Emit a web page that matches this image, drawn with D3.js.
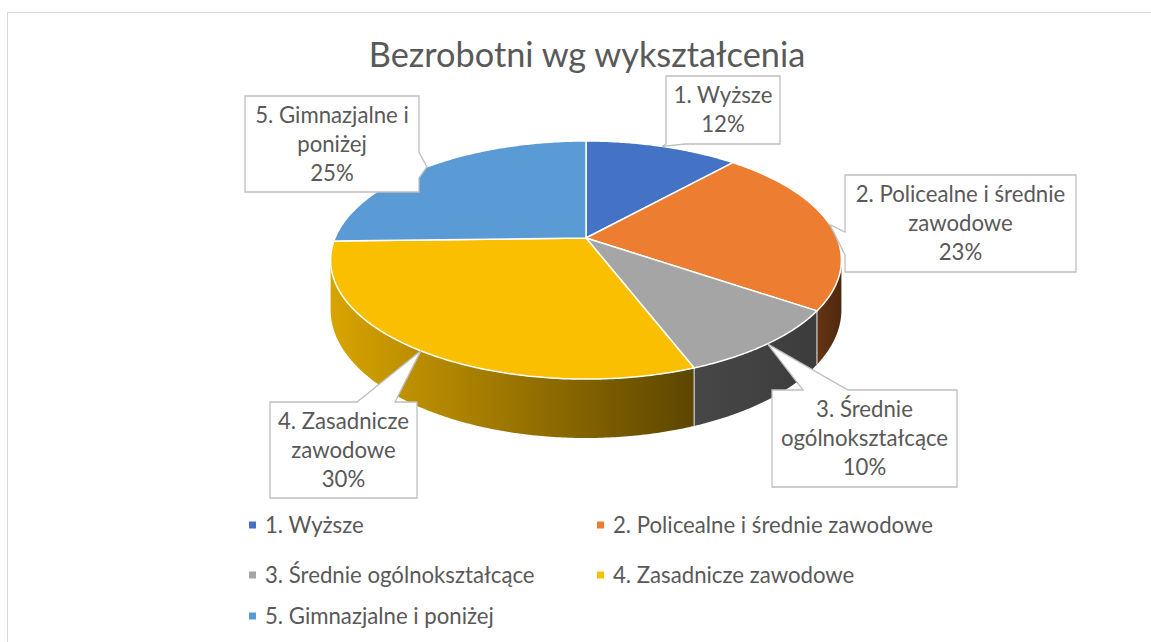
<!DOCTYPE html>
<html>
<head>
<meta charset="utf-8">
<title>Bezrobotni wg wykształcenia</title>
<script src="https://cdn.jsdelivr.net/npm/d3@7"></script>
<style>
  body { margin: 0; background: #fff; }
  text { font-family: Lato, "Liberation Sans", sans-serif; fill: #595959; }
</style>
</head>
<body>
<svg width="1151" height="642"></svg>
<script>
// data
var categories = ["1. Wyższe", "2. Policealne i średnie zawodowe", "3. Średnie ogólnokształcące", "4. Zasadnicze zawodowe", "5. Gimnazjalne i poniżej"];
var shares = [11.6, 23.0, 9.6, 30.4, 25.4];
var calloutLines = [["1. Wyższe"], ["2. Policealne i średnie", "zawodowe"], ["3. Średnie", "ogólnokształcące"], ["4. Zasadnicze", "zawodowe"], ["5. Gimnazjalne i", "poniżej"]];
var title = "Bezrobotni wg wykształcenia";

var colors = ["#4472c4", "#ed7d31", "#a5a5a5", "#fabf00", "#5b9bd5"];
var wallColors = [["#2c4c84", "#1d335a"], ["#663414", "#4e280e"], ["#474747", "#3c3c3c"], ["#d8a400", "#5c4600"], ["#3d6b98", "#2a4a6a"]];

var svg = d3.select("svg");

// chart frame
svg.append("rect")
   .attr("x", 7.5).attr("y", 12.5)
   .attr("width", 1170).attr("height", 700)
   .attr("fill", "#fff").attr("stroke", "#d9d9d9");

svg.append("text")
   .attr("x", 587).attr("y", 67)
   .attr("text-anchor", "middle")
   .style("font-size", "34.3px")
   .text(title);

// 3d pie projection (perspective tilted disc)
var cx = 586, cy = 238, rx = 251, ry = 115, persp = 0.185, depth = 48;

function proj(a, z) {
    var u = Math.sin(a), v = Math.cos(a), den = 1 + persp * v;
    return [cx + rx * u / den, cy - ry * v / den + z * depth / den];
}
function arcPts(a0, a1, z) {
    var n = Math.max(2, Math.ceil(Math.abs(a1 - a0) / 0.01));
    return d3.range(n + 1).map(function(i) { return proj(a0 + (a1 - a0) * i / n, z); });
}
var line = d3.line();

var pie = d3.pie().sort(null).value(function(d) { return d; });
var arcs = pie(shares);

var defs = svg.append("defs");
var aR = Math.acos(-persp), aL = 2 * Math.PI - aR;

var walls = svg.append("g");
arcs.forEach(function(d, i) {
    var b0 = Math.max(d.startAngle, aR), b1 = Math.min(d.endAngle, aL);
    if (b1 <= b0) return;
    var pts = arcPts(b0, b1, 0).concat(arcPts(b1, b0, 1));
    var xs = d3.extent(pts, function(p) { return p[0]; });
    var grad = defs.append("linearGradient")
        .attr("id", "wall" + i)
        .attr("gradientUnits", "userSpaceOnUse")
        .attr("x1", xs[0]).attr("x2", xs[1]).attr("y1", 0).attr("y2", 0);
    grad.append("stop").attr("offset", 0).attr("stop-color", wallColors[i][0]);
    grad.append("stop").attr("offset", 1).attr("stop-color", wallColors[i][1]);
    walls.append("path")
        .attr("d", line(pts) + "Z")
        .attr("fill", "url(#wall" + i + ")");
    // light seam where slices meet on the wall
    if (d.startAngle > aR && d.startAngle < aL) {
        var p0 = proj(d.startAngle, 0), p1 = proj(d.startAngle, 1);
        walls.append("line")
            .attr("x1", p0[0]).attr("y1", p0[1]).attr("x2", p1[0]).attr("y2", p1[1])
            .attr("stroke", "#d0d0d0").attr("stroke-width", 1.2);
    }
});

var faces = svg.append("g");
arcs.forEach(function(d, i) {
    var pts = [[cx, cy]].concat(arcPts(d.startAngle, d.endAngle, 0));
    faces.append("path")
        .attr("d", line(pts) + "Z")
        .attr("fill", colors[i])
        .attr("stroke", "#fff")
        .attr("stroke-width", 1.5)
        .attr("stroke-linejoin", "round");
});

// callouts
var boxes = [
    {x: 666, y: 76, w: 114, h: 68, side: "bottom", b0: 666, b1: 685},
    {x: 845, y: 175, w: 231, h: 97, side: "left", b0: 232, b1: 255},
    {x: 772, y: 390, w: 185, h: 97, side: "top", b0: 803, b1: 848},
    {x: 270, y: 402, w: 147, h: 96, side: "top", b0: 357, b1: 395},
    {x: 245, y: 96, w: 174, h: 96, side: "right", b0: 152, b1: 178}
];

function calloutPath(b, tip) {
    var x0 = b.x, y0 = b.y, x1 = b.x + b.w, y1 = b.y + b.h;
    var p = [[x0, y0]];
    if (b.side == "top") p.push([b.b0, y0], tip, [b.b1, y0]);
    p.push([x1, y0]);
    if (b.side == "right") p.push([x1, b.b0], tip, [x1, b.b1]);
    p.push([x1, y1]);
    if (b.side == "bottom") p.push([b.b1, y1], tip, [b.b0, y1]);
    p.push([x0, y1]);
    if (b.side == "left") p.push([x0, b.b1], tip, [x0, b.b0]);
    return line(p) + "Z";
}

var callouts = svg.append("g");
arcs.forEach(function(d, i) {
    var b = boxes[i];
    var tip = proj((d.startAngle + d.endAngle) / 2, 0);
    callouts.append("path")
        .attr("d", calloutPath(b, tip))
        .attr("fill", "#fff")
        .attr("stroke", "#bfbfbf")
        .attr("stroke-width", 1.3);
    var lines = calloutLines[i].concat([Math.round(shares[i]) + "%"]);
    var midY = b.y + b.h / 2;
    lines.forEach(function(t, j) {
        callouts.append("text")
            .attr("x", b.x + b.w / 2)
            .attr("y", midY + (j - (lines.length - 1) / 2) * 29)
            .attr("dy", "0.35em")
            .attr("text-anchor", "middle")
            .style("font-size", "22.2px")
            .text(t);
    });
});

// legend
var legX = [249, 597], legY = [525, 575, 616];
var legend = svg.append("g");
categories.forEach(function(c, i) {
    var x = legX[i % 2], y = legY[Math.floor(i / 2)];
    legend.append("rect")
        .attr("x", x).attr("y", y - 3.5)
        .attr("width", 7).attr("height", 7)
        .attr("fill", colors[i]);
    legend.append("text")
        .attr("x", x + 16).attr("y", y)
        .attr("dy", "0.35em")
        .style("font-size", "22.2px")
        .text(c);
});
</script>
</body>
</html>
